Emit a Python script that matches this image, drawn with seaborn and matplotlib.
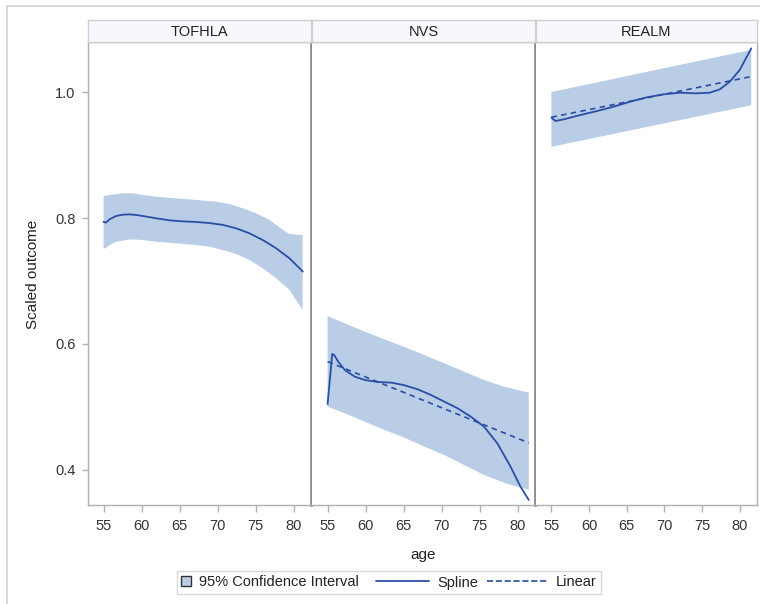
import numpy as np
import pandas as pd
import matplotlib
matplotlib.use("Agg")
import matplotlib.pyplot as plt
from matplotlib.lines import Line2D
from matplotlib.patches import Patch, Rectangle
from matplotlib.legend_handler import HandlerPatch, HandlerLine2D
import seaborn as sns

sns.set_theme(style="white")
plt.rcParams['font.family'] = ['Liberation Sans', 'DejaVu Sans']

panels = ["TOFHLA", "NVS", "REALM"]

# ---- TOFHLA ----
tof_band_age = [55, 55.79, 57.54, 58.86, 60.17, 61.93, 64.56, 67.19, 69.82, 71.58, 73.33,
                75.09, 76.84, 78.6, 79.47, 81.2]
tof_band_hi = [0.835, 0.8365, 0.8392, 0.8392, 0.8365, 0.8339, 0.8312, 0.8286, 0.8259, 0.8222,
               0.8154, 0.8074, 0.7968, 0.781, 0.7746, 0.773]
tof_lo_age = [55, 55.26, 55.79, 56.67, 58.42, 60.17, 61.93, 64.56, 67.19, 68.95, 70.7, 72.46,
              74.21, 75.96, 77.72, 79.47, 81.2]
tof_band_lo = [0.7519, 0.7519, 0.7571, 0.7624, 0.7661, 0.7651, 0.7624, 0.7598, 0.7571, 0.7545,
               0.7492, 0.7429, 0.7333, 0.720, 0.7043, 0.6857, 0.654]
tof_spl_age = [55, 55.3, 55.79, 56.67, 57.54, 58.42, 59.3, 60.17, 61.93, 63.68, 65.43, 67.19,
               68.95, 70.7, 72.46, 74.2, 75.96, 77.7, 79.47, 81.22]
tof_spl_val = [0.794, 0.7926, 0.798, 0.8032, 0.8053, 0.8058, 0.8048, 0.8032, 0.7995, 0.7963,
               0.7947, 0.7937, 0.792, 0.789, 0.7836, 0.7757, 0.765, 0.752, 0.736, 0.715]

# ---- NVS ----
nvs_band_age = [55, 57.27, 59.89, 62.5, 64.99, 67.74, 70.36, 72.98, 75.59, 78.21, 81.48]
nvs_band_hi = [0.6444, 0.6328, 0.6196, 0.6074, 0.5958, 0.5825, 0.5693, 0.5561, 0.5429, 0.5323, 0.5227]
nvs_band_lo = [0.5005, 0.490, 0.4767, 0.4635, 0.4519, 0.437, 0.4238, 0.4079, 0.3921, 0.3799, 0.3683]
nvs_spl_age = [55, 55.61, 55.87, 56.4, 57.27, 58.58, 59.89, 61.63, 63.38, 64.99, 66.87, 68.61,
               70.36, 72.1, 73.85, 75.59, 77.34, 79.08, 80.39, 81.48]
nvs_spl_val = [0.5048, 0.5841, 0.5825, 0.572, 0.5587, 0.5481, 0.5429, 0.5397, 0.5386, 0.5349,
               0.5281, 0.519, 0.5085, 0.498, 0.4847, 0.4688, 0.4424, 0.4053, 0.3735, 0.3524]
nvs_lin_age = [55, 81.48]
nvs_lin_val = [0.572, 0.443]

# ---- REALM ----
realm_band_age = [55, 81.54]
realm_band_lo = [0.913, 0.979]
realm_band_hi = [1.000, 1.067]
realm_spl_age = [55, 55.53, 56.63, 58.84, 61.04, 63.24, 65.45, 67.65, 69.85, 72.06, 74.26,
                 76.03, 77.35, 78.68, 80.0, 81.54]
realm_spl_val = [0.9593, 0.954, 0.9566, 0.9635, 0.9698, 0.9767, 0.9847, 0.9915, 0.9963, 0.9989,
                 0.9979, 0.9989, 1.0042, 1.0164, 1.0349, 1.0693]
realm_lin_age = [55, 81.54]
realm_lin_val = [0.960, 1.0245]

x_ticks = [55, 60, 65, 70, 75, 80]
y_ticks = [0.4, 0.6, 0.8, 1.0]
y_tick_labels = ["0.4", "0.6", "0.8", "1.0"]

band_color = "#b9cde7"
line_color = "#2a4ea6"
spine_color = "#b0b0b0"
div_color = "#8e8e8e"
text_color = "#333333"
FS = 10.5
DASH = (0, (3.3, 2.6))

data = {
    "TOFHLA": ((tof_band_age, tof_band_hi), (tof_lo_age, tof_band_lo), tof_spl_age, tof_spl_val, None, None),
    "NVS": ((nvs_band_age, nvs_band_hi), (nvs_band_age, nvs_band_lo), nvs_spl_age, nvs_spl_val, nvs_lin_age, nvs_lin_val),
    "REALM": ((realm_band_age, realm_band_hi), (realm_band_age, realm_band_lo), realm_spl_age, realm_spl_val, realm_lin_age, realm_lin_val),
}

W, H = 760, 604
fig = plt.figure(figsize=(W / 100, H / 100), dpi=100)

lefts = [88, 312, 536]
rights = [311, 535, 757]
top_px, bot_px = 42, 505
hdr_top = 20


def fx(px):
    return px / W


def fy(py):
    return 1 - py / H


for i, name in enumerate(panels):
    l, r = lefts[i], rights[i]
    ax = fig.add_axes([fx(l), fy(bot_px), fx(r - l), (bot_px - top_px) / H])
    (hia, hiv), (loa, lov), sa, sv, la, lv = data[name]
    poly_x = list(hia) + list(loa)[::-1]
    poly_y = list(hiv) + list(lov)[::-1]
    ax.fill(poly_x, poly_y, color=band_color, linewidth=0)
    sdf = pd.DataFrame({"age": sa, "value": sv})
    sns.lineplot(data=sdf, x="age", y="value", ax=ax, color=line_color, linewidth=1.3,
                 sort=False)
    if la is not None:
        ldf = pd.DataFrame({"age": la, "value": lv})
        sns.lineplot(data=ldf, x="age", y="value", ax=ax, color=line_color,
                     linewidth=1.2, linestyle=DASH)
    ax.set_xlim(52.95, 82.3)
    ax.set_ylim(0.3444, 1.0794)
    ax.set_xticks(x_ticks)
    ax.set_xticklabels([str(t) for t in x_ticks])
    ax.set_xlabel("")
    ax.set_ylabel("")
    ax.tick_params(axis="x", direction="out", length=5, width=1, color=spine_color,
                   labelsize=FS, labelcolor=text_color, pad=5, bottom=True)
    ax.set_yticks(y_ticks)
    if i == 0:
        ax.set_yticklabels(y_tick_labels)
        ax.tick_params(axis="y", direction="out", length=4.5, width=1, color=spine_color,
                       labelsize=FS, labelcolor=text_color, pad=4.5, left=True)
    else:
        ax.tick_params(axis="y", left=False, labelleft=False)
    for s in ax.spines.values():
        s.set_color(spine_color)
        s.set_linewidth(1)
    if i > 0:
        ax.spines["left"].set_visible(False)
    if i < 2:
        ax.spines["right"].set_color(div_color)
        ax.spines["right"].set_linewidth(2.0)

    hax = fig.add_axes([fx(l), fy(top_px), fx(r - l), (top_px - hdr_top) / H])
    hax.set_facecolor("#f7f8fd")
    hax.set_xticks([])
    hax.set_yticks([])
    for s in hax.spines.values():
        s.set_color("#d0d0d0")
        s.set_linewidth(1)
    hax.text(0.5, 0.47, name, ha="center", va="center", fontsize=FS,
             color="#222222", transform=hax.transAxes)

fig.text(fx(33), fy(274), "Scaled outcome", rotation=90, ha="center", va="center",
         fontsize=FS + 0.5, color="#222222")
fig.text(fx(423), fy(555), "age", ha="center", va="center", fontsize=FS + 0.5, color="#222222")


class SquareHandler(HandlerPatch):
    def create_artists(self, legend, orig_handle, xdescent, ydescent, width, height,
                       fontsize, trans):
        s = 7.2  # points
        p = Rectangle((-xdescent + width - s, -ydescent + (height - s) / 2), s, s,
                      facecolor=orig_handle.get_facecolor(),
                      edgecolor=orig_handle.get_edgecolor(), linewidth=1.0,
                      transform=trans)
        return [p]


class LongLineHandler(HandlerLine2D):
    def __init__(self, ext, **kw):
        super().__init__(**kw)
        self.ext = ext

    def create_artists(self, legend, orig_handle, xdescent, ydescent, width, height,
                       fontsize, trans):
        y = -ydescent + height / 2
        ln = Line2D([-xdescent + width - self.ext, -xdescent + width], [y, y],
                    color=orig_handle.get_color(), linewidth=orig_handle.get_linewidth(),
                    linestyle=orig_handle.get_linestyle(), transform=trans)
        return [ln]


h_ci = Patch(facecolor=band_color, edgecolor="#333333")
h_spl = Line2D([0], [0], color=line_color, linewidth=1.3)
h_lin = Line2D([0], [0], color=line_color, linewidth=1.2, linestyle=DASH)
leg = fig.legend([h_ci, h_spl, h_lin], ["95% Confidence Interval", "Spline", "Linear"],
                 loc="center", bbox_to_anchor=(fx(389), fy(582.5)),
                 ncol=3, frameon=True, fontsize=FS, handlelength=0.7, handleheight=0.8,
                 columnspacing=4.1, handletextpad=0.55, borderpad=0.3, borderaxespad=0,
                 fancybox=False,
                 handler_map={h_ci: SquareHandler(),
                              h_spl: LongLineHandler(38),
                              h_lin: LongLineHandler(44)})
leg.get_frame().set_edgecolor("#d0d0d0")
leg.get_frame().set_linewidth(1)
for t in leg.get_texts():
    t.set_color("#222222")

fig.add_artist(Line2D([fx(7), fx(7)], [fy(6), 0], color="#d4d4d4", linewidth=1.2,
                      transform=fig.transFigure))
fig.add_artist(Line2D([fx(7), 1], [fy(6), fy(6)], color="#d4d4d4", linewidth=1.2,
                      transform=fig.transFigure))

fig.savefig("out.png", dpi=100)
